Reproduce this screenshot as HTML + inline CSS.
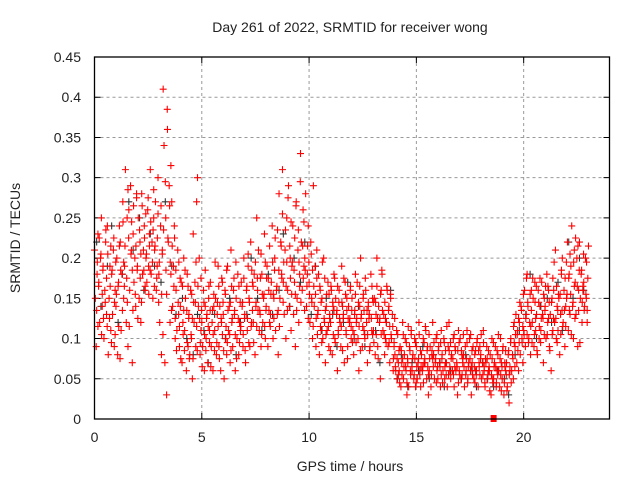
<!DOCTYPE html>
<html><head><meta charset="utf-8"><style>
body{margin:0;background:#fff}
svg text{font-family:"Liberation Sans",sans-serif;fill:#222}
</style></head><body>
<svg id="chart" width="640" height="480" xmlns="http://www.w3.org/2000/svg">
<text x="350" y="32" font-size="14" text-anchor="middle">Day 261 of 2022, SRMTID for receiver wong</text>
<text x="350" y="471" font-size="14" text-anchor="middle">GPS time / hours</text>
<text x="20" y="238" font-size="14" text-anchor="middle" transform="rotate(-90 20 238)">SRMTID / TECUs</text>
<g id="grid"></g><g id="ticks"></g><g id="black"></g><g id="red"></g>
<rect x="94.5" y="57" width="515" height="362" fill="none" stroke="#000" stroke-width="1.3"/>
</svg>
<script>
const xTicks=[0,5,10,15,20];
const yTicks=[0,0.05,0.1,0.15,0.2,0.25,0.3,0.35,0.4,0.45];
const yTickLabels=["0","0.05","0.1","0.15","0.2","0.25","0.3","0.35","0.4","0.45"];
const redTimes=[0,0.2,0.4,0.6,0.8,1,1.2,1.4,1.6,1.8,2,2.2,2.4,2.6,2.8,3,3.2,3.4,3.6,3.8,4,4.2,4.4,4.6,4.8,5,5.2,5.4,5.6,5.8,6,6.2,6.4,6.6,6.8,7,7.2,7.4,7.6,7.8,8,8.2,8.4,8.6,8.8,9,9.2,9.4,9.6,9.8,10,10.2,10.4,10.6,10.8,11,11.2,11.4,11.6,11.8,12,12.2,12.4,12.6,12.8,13,13.2,13.4,13.6,13.8,14,14.2,14.4,14.6,14.8,15,15.2,15.4,15.6,15.8,16,16.2,16.4,16.6,16.8,17,17.2,17.4,17.6,17.8,18,18.2,18.4,18.6,18.8,19,19.2,19.4,19.6,19.8,20,20.2,20.4,20.6,20.8,21,21.2,21.4,21.6,21.8,22,22.2,22.4,22.6,22.8];
const redVals=[[21,15,9,18,23],[17,12,20,25,14],[19,10,16,22,13],[24,8,15,19,11],[18,13,21,9,16],[14,20,8,17,24],[22,11,18,27,15],[19,31,12,25,9],[26,16,29,21,7],[23,17,20,14,28],[19,25,15,22,12],[28,18,21,24,16],[20,17,26,19,23],[31,18,22,15,25],[21,27,16,19,30],[18,12,24,8,21],[41,34,7,25,3],[36,22,29,12,18],[27,14,19,24,10],[16,11,21,13,9],[14,17,7,12,20],[11,15,6,18,9],[13,8,16,10,5],[23,12,17,9,27],[30,14,20,8,11],[12,9,16,6,14],[10,13,7,15,11],[17,9,12,6,14],[11,15,8,13,19],[9,14,6,12,17],[13,5,16,10,8],[19,11,14,7,21],[12,9,16,13,6],[15,10,18,8,12],[11,17,14,9,20],[13,7,16,11,19],[15,9,22,12,17],[12,18,8,14,25],[16,21,11,13,9],[18,12,15,23,10],[14,19,9,16,12],[13,17,24,10,15],[20,11,16,13,8],[28,15,22,18,31],[17,13,21,10,25],[16,29,14,20,11],[19,24,13,17,9],[27,15,21,12,18],[33,22,16,26,19],[20,28,14,18,24],[17,12,22,15,10],[29,14,19,9,21],[13,18,8,16,11],[15,10,20,12,7],[14,11,17,9,13],[12,16,8,14,18],[10,15,13,6,11],[16,12,9,19,14],[13,7,17,11,15],[9,14,12,16,10],[15,11,8,13,18],[12,17,10,6,14],[20,13,9,15,11],[10,16,12,7,14],[13,9,18,11,15],[11,15,8,13,20],[9,14,12,5,16],[18,11,13,8,10],[12,16,9,14,7],[15,10,13,6,9],[8,6,11,5,7],[6,9,4,7,12],[5,8,10,6,3],[7,4,9,6,11],[6,8,5,10,4],[9,5,7,12,6],[4,8,6,10,7],[7,11,5,9,3],[6,9,4,8,12],[8,5,7,10,6],[5,9,7,4,11],[8,6,10,5,7],[7,4,9,12,6],[5,8,6,10,4],[9,6,7,3,11],[6,10,5,8,7],[8,4,9,6,11],[5,7,10,6,3],[7,9,5,8,6],[6,10,4,7,9],[8,5,7,11,6],[4,7,9,5,6],[6,8,3,10,5],[5,7,9,4,6],[8,6,4,10,7],[5,9,3,7,6],[7,4,8,2,6],[10,6,8,5,12],[9,13,7,11,6],[12,8,14,10,7],[11,16,9,13,18],[14,10,12,8,16],[12,15,9,17,11],[13,8,16,10,14],[11,17,13,7,15],[14,10,18,12,16],[9,13,6,15,11],[16,12,21,10,14],[11,15,8,13,18],[20,12,16,9,14],[15,22,11,18,13],[19,24,14,10,21],[17,13,20,9,16],[22,15,18,12,16],[17,14,20,15,12]];
const redVals2=[[13.5,19.5,11.5,16.5,22.5],[20.5,10.5,15.5,18.5,12.5],[14.5,23.5,17.5,11.5,20.5],[12.5,16.5,21.5,9.5,18.5],[22.5,14.5,10.5,19.5,15.5],[16.5,11.5,21.5,7.5,18.5],[13.5,24.5,19.5,16.5,21.5],[17.5,14.5,28.5,22.5,11.5],[20.5,24.5,18.5,13.5,26.5],[15.5,21.5,27.5,18.5,12.5],[23.5,17.5,20.5,14.5,26.5],[18.5,22.5,16.5,25.5,20.5],[27.5,15.5,21.5,18.5,24.5],[19.5,23.5,28.5,16.5,21.5],[17.5,22.5,25.5,14.5,19.5],[26.5,15.5,20.5,10.5,23.5],[29.5,18.5,15.5,38.5,22.5],[26.5,19.5,31.5,13.5,21.5],[16.5,22.5,12.5,18.5,8.5],[14.5,19.5,11.5,17.5,7.5],[16.5,10.5,13.5,8.5,18.5],[13.5,9.5,16.5,12.5,7.5],[10.5,15.5,12.5,7.5,14.5],[14.5,19.5,11.5,8.5,16.5],[12.5,9.5,17.5,13.5,6.5],[14.5,10.5,18.5,8.5,12.5],[11.5,16.5,9.5,13.5,6.5],[13.5,10.5,15.5,8.5,19.5],[9.5,14.5,11.5,16.5,7.5],[12.5,17.5,10.5,14.5,8.5],[15.5,11.5,18.5,9.5,13.5],[10.5,14.5,8.5,16.5,12.5],[17.5,13.5,10.5,19.5,7.5],[12.5,16.5,9.5,14.5,11.5],[14.5,10.5,17.5,12.5,8.5],[16.5,12.5,20.5,9.5,14.5],[11.5,18.5,13.5,16.5,9.5],[19.5,14.5,11.5,17.5,13.5],[13.5,17.5,20.5,10.5,15.5],[15.5,11.5,19.5,13.5,17.5],[17.5,13.5,21.5,11.5,15.5],[19.5,15.5,12.5,18.5,22.5],[16.5,23.5,13.5,18.5,11.5],[21.5,17.5,25.5,14.5,19.5],[23.5,16.5,19.5,13.5,27.5],[21.5,17.5,24.5,15.5,19.5],[18.5,22.5,15.5,26.5,13.5],[23.5,19.5,16.5,29.5,14.5],[21.5,17.5,24.5,13.5,18.5],[16.5,21.5,12.5,19.5,15.5],[20.5,14.5,18.5,11.5,16.5],[15.5,12.5,17.5,10.5,13.5],[16.5,11.5,14.5,9.5,19.5],[12.5,17.5,13.5,10.5,15.5],[11.5,15.5,12.5,8.5,16.5],[14.5,10.5,13.5,17.5,9.5],[13.5,16.5,10.5,14.5,12.5],[11.5,14.5,8.5,12.5,17.5],[15.5,10.5,13.5,7.5,12.5],[12.5,16.5,11.5,13.5,9.5],[10.5,13.5,15.5,9.5,12.5],[14.5,11.5,16.5,8.5,12.5],[11.5,15.5,13.5,10.5,17.5],[13.5,10.5,14.5,12.5,8.5],[12.5,16.5,10.5,14.5,9.5],[14.5,10.5,16.5,12.5,7.5],[12.5,15.5,10.5,18.5,13.5],[10.5,14.5,12.5,9.5,16.5],[13.5,9.5,11.5,15.5,10.5],[11.5,7.5,9.5,12.5,6.5],[7.5,10.5,5.5,8.5,4.5],[8.5,5.5,7.5,10.5,6.5],[6.5,9.5,4.5,7.5,11.5],[8.5,5.5,10.5,6.5,7.5],[5.5,7.5,9.5,4.5,6.5],[7.5,10.5,5.5,8.5,6.5],[6.5,4.5,9.5,7.5,11.5],[8.5,6.5,5.5,10.5,7.5],[5.5,8.5,7.5,6.5,9.5],[7.5,4.5,10.5,6.5,8.5],[6.5,9.5,5.5,7.5,4.5],[9.5,6.5,8.5,5.5,11.5],[5.5,8.5,6.5,9.5,7.5],[7.5,5.5,10.5,6.5,8.5],[6.5,8.5,4.5,9.5,5.5],[8.5,5.5,7.5,10.5,6.5],[5.5,7.5,9.5,4.5,6.5],[7.5,10.5,6.5,8.5,5.5],[6.5,4.5,8.5,5.5,9.5],[8.5,6.5,5.5,7.5,10.5],[5.5,9.5,6.5,4.5,7.5],[7.5,5.5,8.5,6.5,3.5],[5.5,7.5,4.5,9.5,6.5],[6.5,4.5,8.5,5.5,10.5],[7.5,5.5,3.5,6.5,8.5],[4.5,6.5,8.5,5.5,3.5],[8.5,5.5,6.5,9.5,4.5],[7.5,11.5,9.5,6.5,10.5],[10.5,8.5,12.5,9.5,14.5],[13.5,9.5,11.5,15.5,10.5],[12.5,17.5,10.5,14.5,9.5],[15.5,11.5,13.5,9.5,17.5],[10.5,14.5,12.5,16.5,8.5],[14.5,11.5,17.5,9.5,12.5],[12.5,15.5,10.5,13.5,16.5],[10.5,16.5,12.5,14.5,8.5],[14.5,10.5,17.5,12.5,19.5],[12.5,16.5,9.5,13.5,15.5],[15.5,10.5,18.5,13.5,11.5],[13.5,17.5,11.5,19.5,15.5],[17.5,13.5,20.5,15.5,10.5],[14.5,19.5,16.5,12.5,22.5],[16.5,21.5,13.5,18.5,9.5],[18.5,14.5,16.5,20.5,13.5],[15.5,19.5,13.5,17.5,21.5]];
const blackTimes=[0,0.5,1,1.5,2,2.5,3,3.5,4,4.5,5,5.5,6,6.5,7,7.5,8,8.5,9,9.5,10,10.5,11,11.5,12,12.5,13,13.5,14,14.5,15,15.5,16,16.5,17,17.5,18,18.5,19,19.5,20,20.5,21,21.5,22,22.5];
const blackVals=[[22,14],[19,24],[12,18],[27,21],[25,16],[23,19],[17,27],[19,13],[15,10],[8,13],[11,7],[13,9],[10,15],[8,12],[13,20],[15,11],[18,13],[16,23],[14,20],[17,22],[13,19],[11,15],[13,9],[12,17],[10,14],[9,13],[11,7],[12,16],[5,8],[4,7],[6,9],[5,8],[7,4],[6,9],[5,8],[6,4],[7,5],[4,6],[5,3],[8,11],[13,18],[10,14],[15,12],[17,11],[22,15],[20,16]];
const zeroMarkTime=[18.6];
const NS="http://www.w3.org/2000/svg";
const X=t=>94.5+t*(515/24), Y=v=>419-v*(362/0.45);
function mk(tag,attrs,parent){const e=document.createElementNS(NS,tag);for(const k in attrs)e.setAttribute(k,attrs[k]);parent.appendChild(e);return e;}
const grid=document.getElementById('grid'),ticks=document.getElementById('ticks');
xTicks.forEach(t=>{const x=X(t);
 if(t>0){const g=mk('line',{x1:x,x2:x,y1:57,y2:419,stroke:'#999','stroke-dasharray':'3,3'},grid);
 
 }
 const tk=mk('path',{d:`M${x},419v-6M${x},57v6`,stroke:'#000'},ticks);
 
 
 const tx=mk('text',{x:x,y:442,'font-size':14,'text-anchor':'middle'},ticks);tx.textContent=t;
 
 
});
yTicks.forEach((v,i)=>{const y=Y(v);
 if(i>0&&i<yTicks.length-1){const g=mk('line',{x1:94.5,x2:609.5,y1:y,y2:y,stroke:'#999','stroke-dasharray':'3,3'},grid);
 
 }
 const tk=mk('path',{d:`M94.5,${y}h6M609.5,${y}h-6`,stroke:'#000'},ticks);
 
 
 const tx=mk('text',{x:81,y:y+5,'font-size':14,'text-anchor':'end'},ticks);tx.textContent=yTickLabels[i];
 
 
});
function plus(g,t,v,col){const x=X(t),y=Y(v);
 return mk('path',{d:`M${x-3.5},${y}h7M${x},${y-3.5}v7`,stroke:col,'stroke-width':1.1},g);}
const bg=document.getElementById('black');
blackTimes.forEach((t,i)=>(blackVals[i]||[]).forEach((v,j)=>{const p=plus(bg,t+0.1+j*0.2,v/100,'#333');
 
 }));
const rg=document.getElementById('red');
redTimes.forEach((t,i)=>(redVals[i]||[]).forEach((v,j)=>{const p=plus(rg,t+j*0.04,v/100,'#f00');
 
 }));
redTimes.forEach((t,i)=>(redVals2[i]||[]).forEach((v,j)=>{const p=plus(rg,t+0.1+j*0.03,v/100,'#f00');
 
 }));
zeroMarkTime.forEach(t=>{const r=mk('rect',{x:X(t)-3,y:415,width:6,height:7,fill:'#f00'},rg);
 
 });
</script>
</body></html>
